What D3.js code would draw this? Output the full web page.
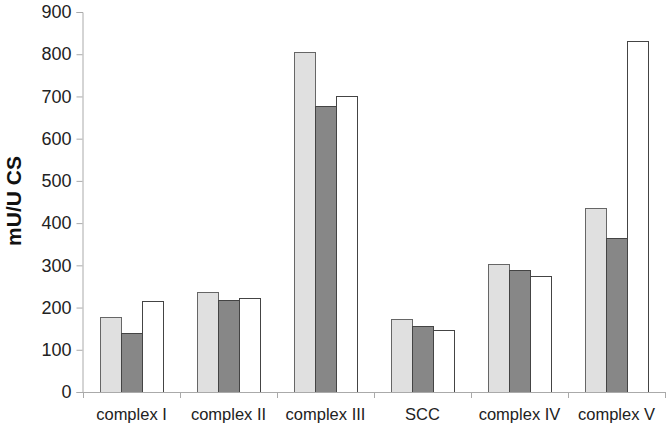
<!DOCTYPE html>
<html><head><meta charset="utf-8">
<script src="https://cdn.jsdelivr.net/npm/d3@7"></script>
<style>body{margin:0;background:#fff}svg{display:block}</style>
</head><body>
<script>
const categories = ["complex I","complex II","complex III","SCC","complex IV","complex V"];
const seriesNames = ["s1","s2","s3"];
const series1 = [178, 236, 806, 174, 303, 436];
const series2 = [140, 217, 677, 156, 288, 365];
const series3 = [215, 222, 700, 146, 274, 832];
const yTicks = [0,100,200,300,400,500,600,700,800,900];
const fills = ["#e0e0e0","#878787","#ffffff"];
const strokes = ["#666","#444","#444"];

const W=666,H=426;
const svg=d3.select("body").append("svg").attr("width",W).attr("height",H);
const x0=d3.scaleBand().domain(categories).range([83,665]).paddingInner(0).paddingOuter(0);
const x1=d3.scaleBand().domain(seriesNames).range([17, x0.bandwidth()-17]);
const y=d3.scaleLinear().domain([0,900]).range([392,12]);
const data=[series1,series2,series3];

const g=svg.append("g");
categories.forEach((c,i)=>{
  seriesNames.forEach((s,j)=>{
    const v=data[j][i];
    g.append("rect").attr("x",x0(c)+x1(s)+0.5).attr("y",Math.round(y(v))+0.5)
     .attr("width",x1.bandwidth()).attr("height",Math.round(y(0))-Math.round(y(v)))
     .attr("fill",fills[j]).attr("stroke",strokes[j]).attr("stroke-width",1);
  });
});

const yAxis=svg.append("g").attr("transform","translate(82.5,0)")
  .call(d3.axisLeft(y).tickValues(yTicks).tickSize(6).tickPadding(5));
yAxis.select(".domain").attr("stroke","#aaa");
yAxis.selectAll(".tick line").attr("stroke","#aaa");
yAxis.selectAll(".tick text").attr("font-family","Liberation Sans, Arial, sans-serif").attr("font-size","18px").attr("fill","#222");

const xAxis=svg.append("g").attr("transform","translate(0,392.5)")
  .call(d3.axisBottom(x0).tickSize(0).tickPadding(16));
xAxis.select(".domain").attr("stroke","#aaa").attr("d",`M83,0H665`);
xAxis.selectAll(".tick text").attr("font-family","Liberation Sans, Arial, sans-serif").attr("font-size","16.5px").attr("fill","#222");
const bounds=categories.map(c=>x0(c)).concat([x0.range()[1]]);
svg.append("g").selectAll("line").data(bounds).join("line")
  .attr("x1",d=>Math.round(d)+0.5).attr("x2",d=>Math.round(d)+0.5)
  .attr("y1",392).attr("y2",398).attr("stroke","#aaa");

svg.append("text").attr("transform","translate(21,201) rotate(-90)")
  .attr("text-anchor","middle").attr("font-family","Liberation Sans, Arial, sans-serif")
  .attr("font-weight","bold").attr("font-size","21px").attr("fill","#111").text("mU/U CS");
</script>
</body></html>
